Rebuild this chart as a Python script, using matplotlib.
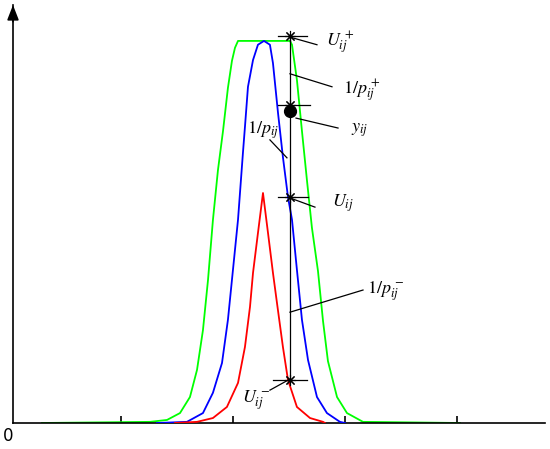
import matplotlib
matplotlib.use("Agg")
import matplotlib.pyplot as plt

plt.rcParams["mathtext.fontset"] = "stix"

# curve samples (x, height)
green_x = [0.295, 1.259, 1.411, 1.527, 1.616, 1.679, 1.732, 1.777, 1.821, 1.866,
           1.911, 1.955, 1.991, 2.018, 2.045, 2.509, 2.527, 2.571, 2.616, 2.661,
           2.705, 2.759, 2.804, 2.848, 2.929, 3.018, 3.161, 4.027]
green_y = [0.0, 0.003, 0.008, 0.026, 0.068, 0.139, 0.243, 0.374, 0.531, 0.662,
           0.764, 0.877, 0.948, 0.982, 1.0, 1.0, 0.990, 0.898, 0.764, 0.634,
           0.511, 0.398, 0.267, 0.162, 0.068, 0.026, 0.003, 0.0]

blue_x = [1.321, 1.589, 1.732, 1.821, 1.902, 1.955, 2.000, 2.045, 2.089, 2.107,
          2.134, 2.179, 2.223, 2.277, 2.330, 2.357, 2.402, 2.446, 2.491, 2.527,
          2.571, 2.616, 2.670, 2.750, 2.839, 2.955, 3.000]
blue_y = [0.0, 0.003, 0.026, 0.079, 0.157, 0.270, 0.401, 0.532, 0.707, 0.775,
          0.880, 0.950, 0.990, 1.0, 0.990, 0.942, 0.812, 0.696, 0.592, 0.532,
          0.401, 0.270, 0.165, 0.068, 0.026, 0.003, 0.0]

red_x = [1.482, 1.679, 1.821, 1.946, 2.045, 2.107, 2.152, 2.179, 2.223, 2.268,
         2.313, 2.357, 2.393, 2.446, 2.491, 2.571, 2.688, 2.804, 2.821]
red_y = [0.0, 0.003, 0.013, 0.042, 0.105, 0.199, 0.304, 0.393, 0.497, 0.602,
         0.497, 0.393, 0.314, 0.199, 0.113, 0.042, 0.013, 0.003, 0.0]

# interval markers on the vertical bar
bar_x = 2.509
cap_levels = [1.013, 0.832, 0.592, 0.113]
cap_left = [2.402, 2.402, 2.402, 2.357]
cap_right = [2.661, 2.688, 2.670, 2.661]
y_obs = 0.817

# labels: text, text anchor (x, y), leader start (x, y), leader end (x, y)
labels = [r"$U_{ij}^{\,+}$", r"$1/p_{ij}^{\,+}$", r"$y_{ij}$", r"$1/p_{ij}$",
          r"$U_{ij}$", r"$1/p_{ij}^{\,-}$", r"$U_{ij}^{\,-}$"]
label_x = [2.830, 2.982, 3.054, 2.125, 2.884, 3.196, 2.080]
label_y = [0.995, 0.870, 0.767, 0.767, 0.576, 0.345, 0.060]
leader_x0 = [2.509, 2.509, 2.563, 2.330, 2.509, 2.509, 2.509]
leader_y0 = [1.010, 0.914, 0.798, 0.741, 0.589, 0.290, 0.115]
leader_x1 = [2.750, 2.884, 2.938, 2.482, 2.732, 3.161, 2.330]
leader_y1 = [0.990, 0.880, 0.772, 0.694, 0.565, 0.348, 0.086]

xticks = [1, 2, 3, 4]

fig = plt.figure(figsize=(5.5, 4.49), dpi=100)
ax = fig.add_axes([13 / 550, 26 / 449, 532 / 550, 418 / 449])
ax.set_xlim(0.036, 4.786)
ax.set_ylim(0, 1.094)

ax.plot(green_x, green_y, color="#00ff00", lw=1.3, zorder=2)
ax.plot(blue_x, blue_y, color="#0000ff", lw=1.3, zorder=3)
ax.plot(red_x, red_y, color="#ff0000", lw=1.3, zorder=4)

ax.plot([bar_x, bar_x], [cap_levels[0], cap_levels[-1]], color="black", lw=0.9, zorder=5)
for lev, x0, x1 in zip(cap_levels, cap_left, cap_right):
    ax.plot([x0, x1], [lev, lev], color="black", lw=0.9, zorder=5)
    ax.plot(bar_x, lev, marker=(8, 2, 0), ms=8, mec="black", mew=0.8, zorder=6)
ax.plot(bar_x, y_obs, "o", color="black", ms=8.5, zorder=7)

for txt, tx, ty, x0, y0, x1, y1 in zip(labels, label_x, label_y, leader_x0,
                                         leader_y0, leader_x1, leader_y1):
    ax.plot([x0, x1], [y0, y1], color="black", lw=0.9, zorder=5)
    ax.text(tx, ty, txt, fontsize=13, ha="left", va="center", color="black")

for side in ["top", "right"]:
    ax.spines[side].set_visible(False)
for side in ["left", "bottom"]:
    ax.spines[side].set_linewidth(1.2)
ax.set_xticks(xticks)
ax.set_xticklabels([])
ax.set_yticks([])
ax.tick_params(axis="x", direction="in", length=5, width=1.2)

ax.annotate("", xy=(0, 1.0), xycoords="axes fraction", xytext=(0, 0.96),
            arrowprops=dict(arrowstyle="-|>,head_length=0.9,head_width=0.35",
                            color="black", lw=1.2, shrinkA=0, shrinkB=0))
fig.text(8 / 550, 1 - 436 / 449, "0", fontsize=12, ha="center", va="center")

fig.savefig("out.png", dpi=100)
